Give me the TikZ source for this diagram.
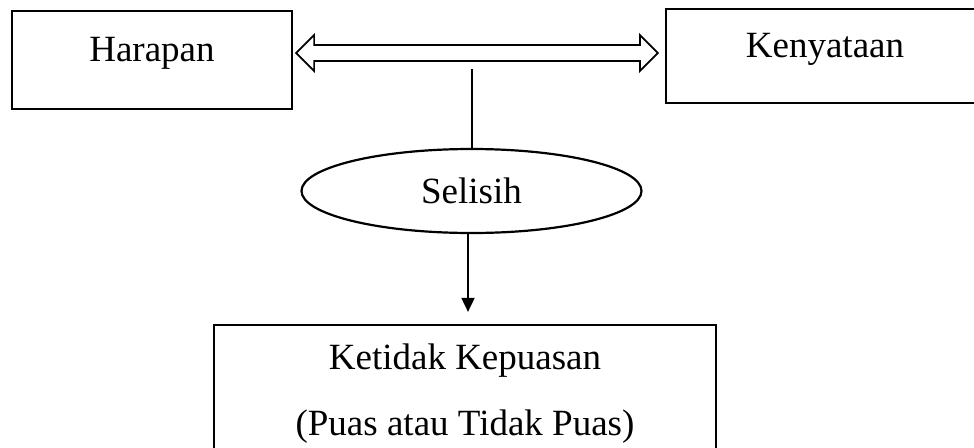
\documentclass[tikz,border=0pt]{standalone}
\usepackage{fontspec}
\setmainfont{Liberation Serif}
\usetikzlibrary{arrows.meta,shapes.geometric,calc}
\tikzset{
  txt/.style={font=\fontsize{37}{44}\selectfont, inner sep=0pt},
  boxline/.style={draw=black, line width=2.2pt, inner sep=0pt},
  conn/.style={draw=black, line width=1.8pt},
}
\begin{document}
\begin{tikzpicture}[x=1pt,y=-1pt]
  \clip (0,0) rectangle (974,447);
  \fill[white] (0,0) rectangle (974,447);
  % boxes
  \node[boxline, rectangle, minimum width=280pt, minimum height=98pt] (harapan) at (152,60) {};
  \node[txt, anchor=base] (harapanT) at (152,61) {Harapan};
  \node[boxline, rectangle, minimum width=318pt, minimum height=94pt] (kenyataan) at (825,56) {};
  \node[txt, anchor=base] (kenyataanT) at (825,57) {Kenyataan};
  \node[boxline, ellipse, minimum width=340pt, minimum height=84pt, txt] (selisih) at (471.5,191) {Selisih};
  \node[boxline, rectangle, minimum width=502pt, minimum height=135pt] (hasil) at (465,392.5) {};
  \node[txt, anchor=base] (hasilA) at (465,369) {Ketidak Kepuasan};
  \node[txt, anchor=base] (hasilB) at (465,435) {(Puas atau Tidak Puas)};
  % hollow double arrow between Harapan and Kenyataan
  \coordinate (al) at ($(harapan.east)+(3,-7)$);
  \coordinate (ar) at ($(kenyataan.west)+(-7,-3)$);
  \draw[line width=1.7pt, line join=miter]
    (al) -- ($(al)+(18,-18)$) -- ($(al)+(18,-8)$) -- ($(ar)+(-18,-8)$)
    -- ($(ar)+(-18,-18)$) -- (ar) -- ($(ar)+(-18,18)$) -- ($(ar)+(-18,8)$)
    -- ($(al)+(18,8)$) -- ($(al)+(18,18)$) -- cycle;
  % vertical line from the arrow to Selisih
  \coordinate (vtop) at (472,69);
  \draw[line width=2.6pt] (vtop) -- (vtop |- selisih.north);
  % arrow from Selisih to the result box
  \coordinate (vend) at ($(hasil.north)+(3,-12)$);
  \draw[conn, -{Triangle[width=13pt,length=14pt]}] (vend |- selisih.south) -- (vend);
\end{tikzpicture}
\end{document}
